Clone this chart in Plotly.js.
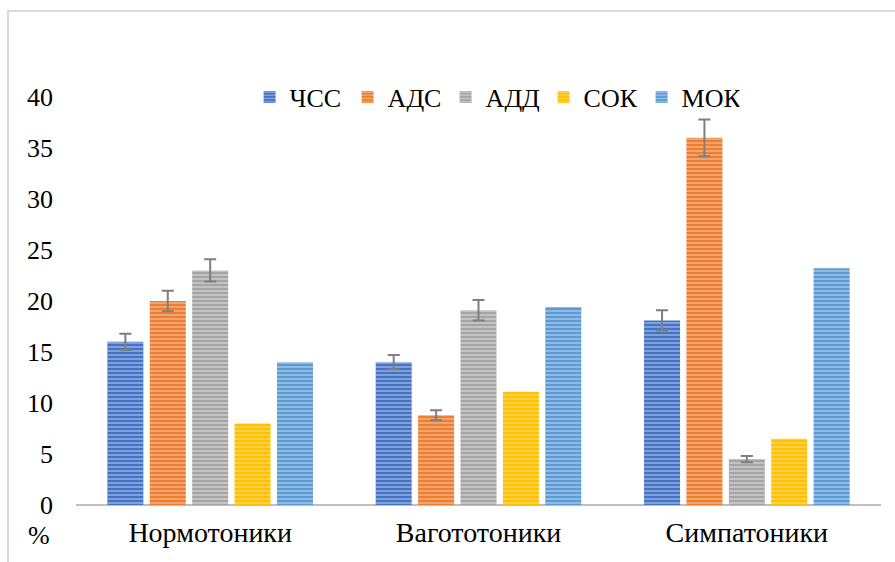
<!DOCTYPE html>
<html>
<head>
<meta charset="utf-8">
<script src="https://cdn.plot.ly/plotly-3.0.1.min.js"></script>
<style>
html,body{margin:0;padding:0;background:#fff;}
#wrap{position:relative;width:895px;height:562px;}
#frame{position:absolute;left:7px;top:10px;width:900px;height:600px;border-top:2px solid #d9d9d9;border-left:2px solid #d9d9d9;box-sizing:border-box;pointer-events:none;}
#chart{position:absolute;left:0;top:0;width:895px;height:562px;}
</style>
</head>
<body>
<div id="wrap"><div id="chart"></div><div id="frame"></div></div>
<script>
const categories = ["Нормотоники", "Вагототоники", "Симпатоники"];
const seriesNames = ["ЧСС", "АДС", "АДД", "СОК", "МОК"];
const chss = [16.0, 14.0, 18.1];
const ads  = [20.0, 8.8, 36.0];
const add  = [23.0, 19.1, 4.5];
const sok  = [8.0, 11.1, 6.5];
const mok  = [14.0, 19.4, 23.2];
const chssErr = [0.8, 0.7, 1.0];
const adsErr  = [1.0, 0.5, 1.8];
const addErr  = [1.1, 1.0, 0.3];
const yTicks = [0, 5, 10, 15, 20, 25, 30, 35, 40];

const colors = ["#4472C4", "#ED7D31", "#A5A5A5", "#FFC000", "#5B9BD5"];
const stripe = ["#c9d8f2", "#fbd3b5", "#e6e6e6", "#ffe699", "#cfe2f5"];
const values = [chss, ads, add, sok, mok];
const errs = [chssErr, adsErr, addErr, null, null];

const traces = seriesNames.map((n, i) => {
  const t = {
    type: "bar",
    name: n,
    x: categories,
    y: values[i],
    marker: {
      color: colors[i],
      line: {width: 0},
      pattern: {shape: "-", fgcolor: stripe[i], bgcolor: colors[i], size: 4, solidity: 0.45, fillmode: "overlay"}
    }
  };
  if (errs[i]) {
    t.error_y = {type: "data", array: errs[i], visible: true, color: "#7f7f7f", thickness: 2, width: 6};
  }
  return t;
});

const FAM = "Liberation Serif";
const layout = {
  width: 895, height: 562,
  margin: {l: 76, r: 14, t: 97, b: 57},
  paper_bgcolor: "#fff", plot_bgcolor: "#fff",
  barmode: "group", bargap: 0.21, bargroupgap: 0.15,
  font: {family: FAM, size: 26, color: "#000"},
  xaxis: {
    showgrid: false, zeroline: false, showline: false,
    ticks: "", ticklabelstandoff: 8,
    tickfont: {family: FAM, size: 28, color: "#000"}
  },
  yaxis: {
    range: [0, 40], tickvals: yTicks, ticktext: yTicks.map(String),
    showgrid: false, zeroline: true, zerolinecolor: "#bfbfbf", zerolinewidth: 2,
    showline: false, ticks: "", ticklabelstandoff: 22,
    tickfont: {family: FAM, size: 26, color: "#000"}
  },
  legend: {
    orientation: "h", x: 0.52, xanchor: "center", y: 1.0, yanchor: "middle",
    bgcolor: "rgba(0,0,0,0)",
    font: {family: FAM, size: 26, color: "#000"},
    itemwidth: 30, entrywidth: 53, traceorder: "normal"
  },
  annotations: [{
    text: "%", xref: "paper", yref: "paper", x: -0.03, y: -0.075,
    xanchor: "right", yanchor: "middle", showarrow: false,
    font: {family: FAM, size: 26, color: "#000"}
  }],
  showlegend: true
};
Plotly.newPlot("chart", traces, layout, {displayModeBar: false, staticPlot: true});
</script>
</body>
</html>
